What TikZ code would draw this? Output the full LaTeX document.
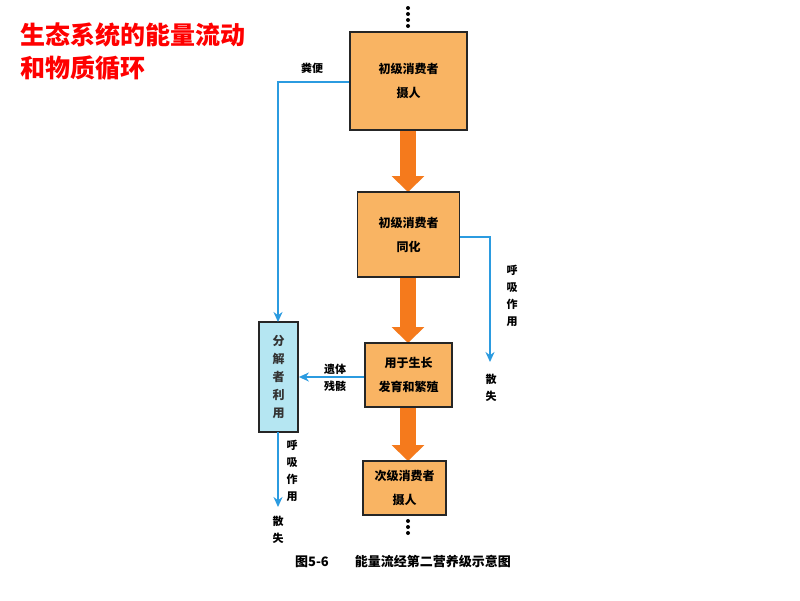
\documentclass[tikz,border=0pt]{standalone}
\usepackage{fontspec}
\setmainfont{Noto Sans CJK SC}
\usetikzlibrary{arrows.meta}
\definecolor{boxor}{HTML}{F9B463}
\definecolor{arrowor}{HTML}{F57A1C}
\definecolor{lblue}{HTML}{2B9BE0}
\definecolor{cyanbox}{HTML}{B5E6F2}
\begin{document}
\begin{tikzpicture}[x=1pt,y=-1pt,
  box/.style={draw=black!85,line width=1.8pt,fill=boxor,align=center,font=\bfseries\fontsize{12}{24}\selectfont,inner sep=0pt},
  fat/.style={arrowor,line width=16pt,-{Triangle[width=32pt,length=16pt]}},
  blu/.style={lblue,line width=2.2pt},
  bluarr/.style={blu,-{Stealth[length=10pt,width=9pt]}},
  lbl/.style={font=\bfseries\fontsize{11}{17}\selectfont,align=center,inner sep=0pt},
  dot/.style={circle,fill=black,inner sep=0pt,minimum size=4pt}]
\useasboundingbox (0,0) rectangle (800,600);
\fill[white] (0,0) rectangle (800,600);
\coordinate (a1) at (408,130); \coordinate (a2) at (408,192);
\coordinate (a3) at (408,277); \coordinate (a4) at (408,343);
\coordinate (a5) at (408,407); \coordinate (a6) at (408,461);
\draw[fat] (a1) -- (a2);
\draw[fat] (a3) -- (a4);
\draw[fat] (a5) -- (a6);
\node[anchor=north west,text=red,align=left,font=\bfseries\fontsize{25}{33}\selectfont,inner sep=0pt] (title) at (20,23) {生态系统的能量流动\\和物质循环};
\node[box,minimum width=117pt,minimum height=98pt] (b1) at (408.5,81) {初级消费者\\摄人};
\node[box,minimum width=102pt,minimum height=85pt] (b2) at (408.5,234.5) {初级消费者\\同化};
\node[box,minimum width=87pt,minimum height=64pt] (b3) at (408.5,375) {用于生长\\发育和繁殖};
\node[box,minimum width=83pt,minimum height=54pt] (b4) at (404.5,488) {次级消费者\\摄人};
\node[draw=black!85,line width=1.8pt,fill=cyanbox,minimum width=39pt,minimum height=110pt,inner sep=0pt,align=center,text=black!80,font=\bfseries\fontsize{12}{18}\selectfont] (d) at (278.5,377) {分\\解\\者\\利\\用};
\foreach \i/\yy in {1/8,2/14,3/20,4/26} \node[dot] (ta\i) at (408,\yy) {};
\foreach \i/\yy in {1/521,2/527,3/533} \node[dot] (tb\i) at (408,\yy) {};
\coordinate (c1) at (278,82);
\draw[bluarr] (b1.west |- c1) -- (c1) -- (278,322);
\node[lbl] (l1) at (312,68) {粪便};
\coordinate (c2) at (490,237);
\coordinate (e2) at (490,362);
\draw[bluarr] (b2.east |- c2) -- (c2) -- (e2);
\node[lbl] (l2) at (512,296) {呼\\吸\\作\\用};
\node[lbl] (l3) at (491,388) {散\\失};
\draw[bluarr] (b3.west |- 0,377) -- (d.east |- 0,377);
\node[lbl] (l4) at (335,378) {遗体\\残骸};
\coordinate (e3) at (278,507);
\draw[bluarr] (278,432) -- (e3);
\node[lbl] (l5) at (292,471) {呼\\吸\\作\\用};
\node[lbl] (l6) at (278,530) {散\\失};
\node[font=\bfseries\fontsize{13}{15}\selectfont,inner sep=0pt] (cap) at (403,561) {图5-6\hspace{26pt}能量流经第二营养级示意图};
\end{tikzpicture}
\end{document}
